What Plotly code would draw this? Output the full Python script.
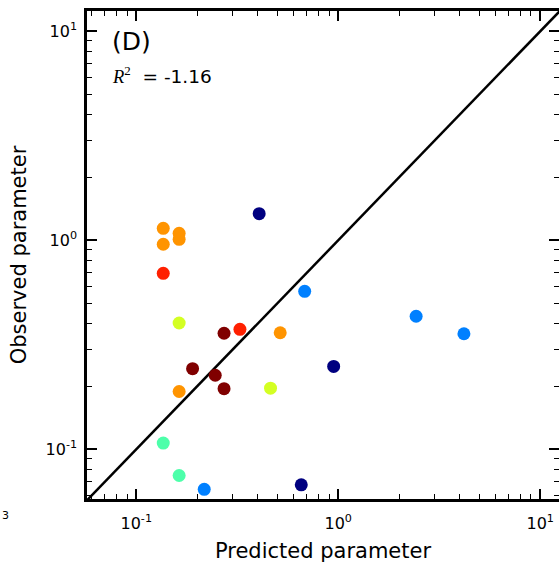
import plotly.graph_objects as go
import numpy as np

# ---- data ----
groups = ["navy", "blue", "aqua", "yellowgreen", "orange", "red", "darkred"]
group_colors = ["#000080", "#0080ff", "#4dffaa", "#d4ff23", "#ff9400", "#ff2000", "#800000"]

pred_navy = [0.406, 0.949, 0.656]
obs_navy = [1.34, 0.249, 0.0676]
pred_blue = [0.682, 0.217, 2.43, 4.19]
obs_blue = [0.570, 0.0643, 0.433, 0.357]
pred_aqua = [0.136, 0.163]
obs_aqua = [0.107, 0.0749]
pred_yg = [0.163, 0.462]
obs_yg = [0.402, 0.196]
pred_orange = [0.136, 0.163, 0.163, 0.136, 0.516, 0.163]
obs_orange = [1.14, 1.08, 1.01, 0.957, 0.361, 0.189]
pred_red = [0.136, 0.326]
obs_red = [0.695, 0.375]
pred_darkred = [0.272, 0.190, 0.246, 0.272]
obs_darkred = [0.359, 0.243, 0.226, 0.195]

preds = [pred_navy, pred_blue, pred_aqua, pred_yg, pred_orange, pred_red, pred_darkred]
obss = [obs_navy, obs_blue, obs_aqua, obs_yg, obs_orange, obs_red, obs_darkred]

diag = [0.04, 20]
major_ticks = [0.1, 1, 10]
major_text = ["10<sup>-1</sup>", "10<sup>0</sup>", "10<sup>1</sup>"]
minor_ticks = [m * 10.0 ** e for e in range(-2, 2) for m in range(2, 10)]
r2_text = "-1.16"

FONT = "DejaVu Sans"
xr = [-1.244, 1.093]
yr = [-1.238, 1.097]

fig = go.Figure()
fig.add_trace(go.Scatter(x=diag, y=diag, mode="lines",
                         line=dict(color="black", width=2.5),
                         showlegend=False, hoverinfo="skip"))
for name, c, px, py in zip(groups, group_colors, preds, obss):
    fig.add_trace(go.Scatter(x=px, y=py, mode="markers", name=name,
                             marker=dict(color=c, size=13, line=dict(width=0)),
                             showlegend=False))
# empty trace for right-side ticks axis
fig.add_trace(go.Scatter(x=[], y=[], yaxis="y2", showlegend=False))

tickfont = dict(family=FONT, size=16, color="black")
minor = dict(tickvals=minor_ticks, ticks="inside", ticklen=5, tickwidth=1.2, tickcolor="black", showgrid=False)

fig.update_layout(
    width=559, height=564,
    margin=dict(l=87, r=0, t=11, b=65),
    paper_bgcolor="white", plot_bgcolor="white",
    font=dict(family=FONT, color="black"),
    xaxis=dict(type="log", range=xr, showgrid=False, zeroline=False,
               showline=True, linecolor="black", linewidth=2.5, mirror="ticks",
               ticks="inside", ticklen=10, tickwidth=1.5, tickcolor="black",
               tickvals=major_ticks, ticktext=major_text, tickfont=tickfont,
               ticklabelstandoff=8, minor=minor,
               title=dict(text="Predicted parameter", font=dict(family=FONT, size=21), standoff=12)),
    yaxis=dict(type="log", range=yr, showgrid=False, zeroline=False,
               showline=True, linecolor="black", linewidth=2.5, mirror=False,
               ticks="inside", ticklen=10, tickwidth=1.5, tickcolor="black",
               tickvals=major_ticks, ticktext=major_text, tickfont=tickfont,
               ticklabelstandoff=4, minor=minor,
               title=dict(text="Observed parameter", font=dict(family=FONT, size=21), standoff=14)),
    yaxis2=dict(type="log", range=yr, overlaying="y", side="right", showgrid=False,
                zeroline=False, showline=False, showticklabels=False,
                ticks="inside", ticklen=10, tickwidth=1.5, tickcolor="black",
                tickvals=major_ticks, minor=minor),
)

fig.add_annotation(xref="paper", yref="paper", x=(110 - 87) / 472, y=(499 - 42) / 488,
                   xanchor="left", yanchor="middle", showarrow=False,
                   text="(D)", font=dict(family=FONT, size=25, color="black"))
fig.add_annotation(xref="paper", yref="paper", x=(110 - 87) / 472, y=(499 - 75) / 488,
                   xanchor="left", yanchor="middle", showarrow=False,
                   text="<span style=\"font-family:'Liberation Serif'\"><i>R</i><sup>2</sup></span>  = " + r2_text,
                   font=dict(family=FONT, size=18.5, color="black"))
fig.add_annotation(xref="paper", yref="paper", x=(0 - 87) / 472, y=(499 - 515) / 488,
                   xanchor="left", yanchor="middle", showarrow=False,
                   text="3", font=dict(family=FONT, size=11, color="black"))

fig.write_html("out.html")
